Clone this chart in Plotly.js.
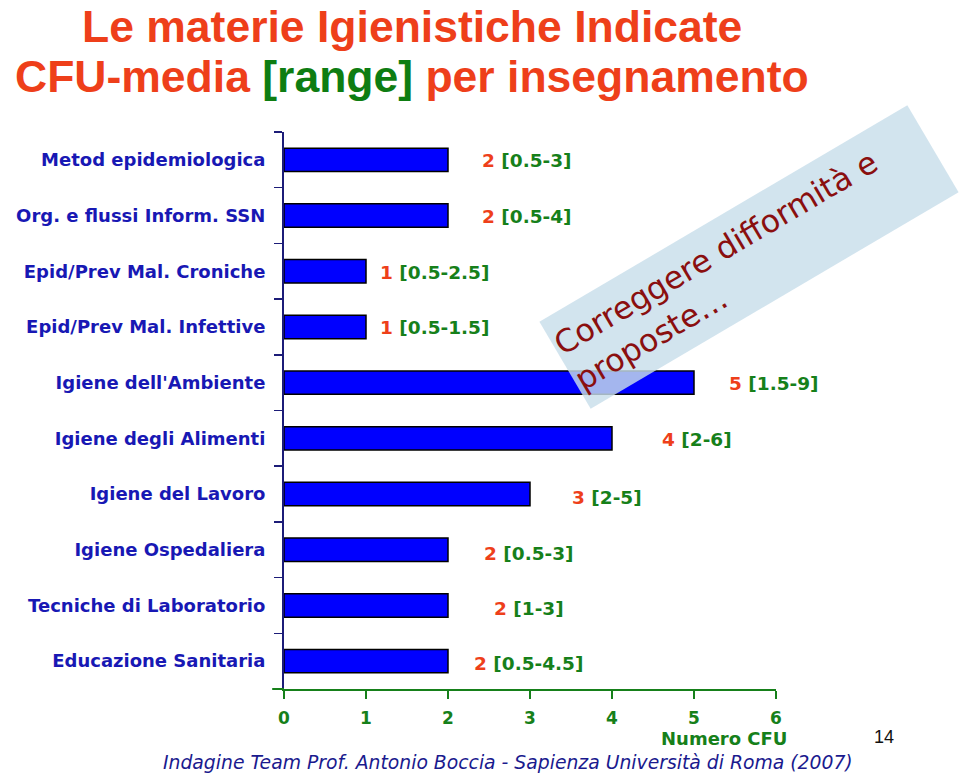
<!DOCTYPE html>
<html>
<head>
<meta charset="utf-8">
<script src="https://cdn.plot.ly/plotly-3.0.1.min.js"></script>
<style>html,body{margin:0;padding:0;background:#fff;}#chart{width:960px;height:776px;}</style>
</head>
<body>
<div id="chart"></div>
<script>
// ---- data ----
const categories = [
  "Metod epidemiologica",
  "Org. e flussi Inform. SSN",
  "Epid/Prev Mal. Croniche",
  "Epid/Prev Mal. Infettive",
  "Igiene dell'Ambiente",
  "Igiene degli Alimenti",
  "Igiene del Lavoro",
  "Igiene Ospedaliera",
  "Tecniche di Laboratorio",
  "Educazione Sanitaria"
];
const cfuMean = [2, 2, 1, 1, 5, 4, 3, 2, 2, 2];
const cfuRange = ["[0.5-3]", "[0.5-4]", "[0.5-2.5]", "[0.5-1.5]", "[1.5-9]", "[2-6]", "[2-5]", "[0.5-3]", "[1-3]", "[0.5-4.5]"];
const xTickValues = [0, 1, 2, 3, 4, 5, 6];
const titleLine1 = "Le materie Igienistiche Indicate";
const titleLine2 = "CFU-media <span style='color:#0e7d12'>[range]</span> per insegnamento";
const xAxisLabel = "Numero CFU";
const footerText = "Indagine Team Prof. Antonio Boccia - Sapienza Università di Roma (2007)";
const pageNumber = "14";
const noteText = "Correggere difformità e<br>proposte…";

// ---- styling constants ----
const RED = "#ee3f1a";
const GREEN = "#16801a";
const NAVY = "#1c1c78";
const LABELBLUE = "#1818b4";
const labelShift = [32, 32, 12, 12, 33, 48, 40, 34, 44, 24];
const labelYShift = [-1, -1, -1, -1, -1, -1, -3, -4, -3, -2];

const trace = {
  type: "bar",
  orientation: "h",
  y: categories,
  x: cfuMean,
  width: 0.42,
  marker: { color: "#0000ff", line: { color: "#000000", width: 1.5 } },
  hoverinfo: "none"
};

const annotations = [];
categories.forEach((c, i) => {
  annotations.push({
    x: cfuMean[i], y: c, xref: "x", yref: "y",
    xanchor: "left", yanchor: "middle",
    xshift: labelShift[i], yshift: labelYShift[i],
    showarrow: false,
    text: "<span style='color:" + RED + "'>" + cfuMean[i] + "</span> " + cfuRange[i],
    font: { family: "DejaVu Sans", size: 18.5, color: GREEN, weight: "bold" }
  });
});
// title lines
annotations.push({
  xref: "paper", yref: "paper", x: 0.26, y: (689 - 26) / 557, xanchor: "center", yanchor: "middle",
  showarrow: false, text: "<b>" + titleLine1 + "</b>",
  font: { family: "Liberation Sans, Arial", size: 44.5, color: RED }
});
annotations.push({
  xref: "paper", yref: "paper", x: 0.26, y: (689 - 76) / 557, xanchor: "center", yanchor: "middle",
  showarrow: false, text: "<b>" + titleLine2 + "</b>",
  font: { family: "Liberation Sans, Arial", size: 44.5, color: RED }
});
// axis label
annotations.push({
  xref: "paper", yref: "paper", x: (789 - 284) / 492, y: (689 - 738) / 557,
  xanchor: "right", yanchor: "middle", showarrow: false,
  text: "<b>" + xAxisLabel + "</b>",
  font: { family: "DejaVu Sans", size: 18, color: GREEN }
});
// footer
annotations.push({
  xref: "paper", yref: "paper", x: (508 - 284) / 492, y: (689 - 762) / 557,
  xanchor: "center", yanchor: "middle", showarrow: false,
  text: "<i>" + footerText + "</i>",
  font: { family: "DejaVu Sans", size: 18.8, color: "#1a1a8e" }
});
// page number
annotations.push({
  xref: "paper", yref: "paper", x: (884 - 284) / 492, y: (689 - 737) / 557,
  xanchor: "center", yanchor: "middle", showarrow: false,
  text: pageNumber,
  font: { family: "Liberation Sans, Arial", size: 18, color: "#111111" }
});
// rotated note box
annotations.push({
  xref: "paper", yref: "paper", x: (749 - 284) / 492, y: (689 - 257) / 557,
  xanchor: "center", yanchor: "middle", showarrow: false,
  text: noteText, textangle: -30.5, align: "left", valign: "middle",
  width: 422, height: 96, borderpad: 2,
  bgcolor: "rgba(200,222,234,0.82)",
  font: { family: "DejaVu Sans", size: 31.5, color: "#8a0f0f" }
});

const layout = {
  width: 960, height: 776,
  margin: { l: 284, r: 184, t: 132, b: 87 },
  paper_bgcolor: "#ffffff", plot_bgcolor: "#ffffff",
  showlegend: false,
  bargap: 0.5,
  xaxis: {
    range: [0, 6], tickvals: xTickValues, ticktext: xTickValues.map(String),
    ticks: "outside", ticklen: 8, tickwidth: 2, tickcolor: GREEN,
    showline: true, linecolor: GREEN, linewidth: 2,
    showgrid: false, zeroline: false, fixedrange: true,
    ticklabelstandoff: 5,
    tickfont: { family: "DejaVu Sans", size: 17, color: GREEN, weight: "bold" }
  },
  yaxis: {
    type: "category", autorange: "reversed",
    tickson: "boundaries", ticks: "outside", ticklen: 8, tickwidth: 1.5, tickcolor: NAVY,
    showline: true, linecolor: NAVY, linewidth: 2,
    showgrid: false, zeroline: false, fixedrange: true,
    ticklabelstandoff: 13,
    tickfont: { family: "DejaVu Sans", size: 18, color: LABELBLUE, weight: "bold" }
  },
  shapes: [
    { type: "line", xref: "paper", yref: "paper", x0: -0.024, x1: 0, y0: 0, y1: 0,
      line: { color: GREEN, width: 2 } }
  ],
  annotations: annotations
};

Plotly.newPlot("chart", [trace], layout, { displayModeBar: false, staticPlot: true });
</script>
</body>
</html>
